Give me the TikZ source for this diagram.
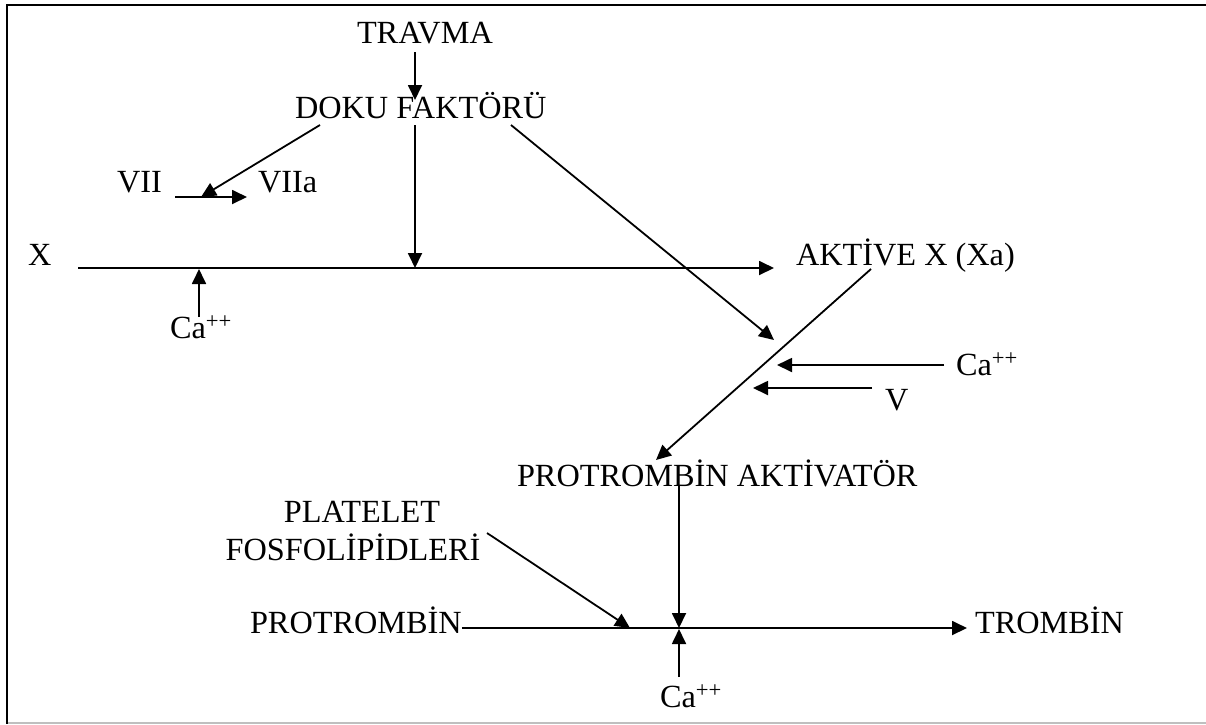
\documentclass[tikz,border=0pt]{standalone}
\usepackage{fontspec}
\setmainfont{Liberation Serif}
\usetikzlibrary{arrows.meta}
\tikzset{
  lbl/.style={inner sep=0pt, outer sep=0pt, anchor=base west, font=\fontsize{32.3}{37.5}\selectfont},
  conn/.style={line width=1.8pt, -{Triangle[length=15pt,width=14pt]}},
}
\begin{document}
\begin{tikzpicture}[x=1pt,y=-1pt]
\useasboundingbox (0,0) rectangle (1206,724);
% frame
\draw[line width=2pt] (1206,5) -- (6.5,5) -- (6.5,724);
\draw[line width=1.5pt, black!25] (8,723) -- (1206,723);
% labels
\node[lbl] (travma) at (357,43) {TRAVMA};
\node[lbl] (doku) at (295,118) {DOKU FAKTÖRÜ};
\node[lbl] (vii) at (117,192) {VII};
\node[lbl] (viia) at (258,192) {VIIa};
\node[lbl] (xn) at (28,265) {X};
\node[lbl] (ca1) at (170,338) {Ca\textsuperscript{++}};
\node[lbl] (aktive) at (796,265) {AKTİVE X (Xa)};
\node[lbl] (ca2) at (956,375) {Ca\textsuperscript{++}};
\node[lbl] (vn) at (885,410) {V};
\node[lbl] (pa) at (517,486) {PROTROMBİN AKTİVATÖR};
\node[lbl, anchor=base, align=center] (plat) at (353,560) {\hspace*{18pt}PLATELET\\FOSFOLİPİDLERİ};
\node[lbl] (pro) at (250,633) {PROTROMBİN};
\node[lbl] (trom) at (975,633) {TROMBİN};
\node[lbl] (ca3) at (660,707) {Ca\textsuperscript{++}};
% coordinates
\coordinate (trA) at (415,52);
\coordinate (trB) at (415,100);
\coordinate (dkL) at (320,125);
\coordinate (viiJ) at (201,197);
\coordinate (viiS) at (175,197);
\coordinate (viiE) at (247,197);
\coordinate (dkM) at (415,125);
\coordinate (xJ) at (415,268);
\coordinate (xS) at (78,268);
\coordinate (xE) at (774,268);
\coordinate (caS) at (199,317);
\coordinate (caJ) at (199,269);
\coordinate (dkR) at (511,125);
\coordinate (dgT) at (774,340);
\coordinate (axS) at (871,269);
\coordinate (paT) at (656,460);
\coordinate (cbS) at (944,365);
\coordinate (cbT) at (777,365);
\coordinate (vS) at (872,388);
\coordinate (vT) at (753,388);
\coordinate (paS) at (679,486);
\coordinate (ptJ) at (679,628);
\coordinate (ccS) at (679,677);
\coordinate (ccJ) at (679,629);
\coordinate (prS) at (pro.base east |- 0,628);
\coordinate (prE) at (967,628);
\coordinate (plS) at (487,533);
\coordinate (plT) at (630,628);
% connectors
\draw[conn] (trA) -- (trB);
\draw[conn] (dkL) -- (viiJ);
\draw[conn] (viiS) -- (viiE);
\draw[conn] (dkM) -- (xJ);
\draw[conn] (xS) -- (xE);
\draw[conn] (caS) -- (caJ);
\draw[conn] (dkR) -- (dgT);
\draw[conn] (axS) -- (paT);
\draw[conn] (cbS) -- (cbT);
\draw[conn] (vS) -- (vT);
\draw[conn] (paS) -- (ptJ);
\draw[conn] (ccS) -- (ccJ);
\draw[conn] (prS) -- (prE);
\draw[conn] (plS) -- (plT);
\end{tikzpicture}
\end{document}
